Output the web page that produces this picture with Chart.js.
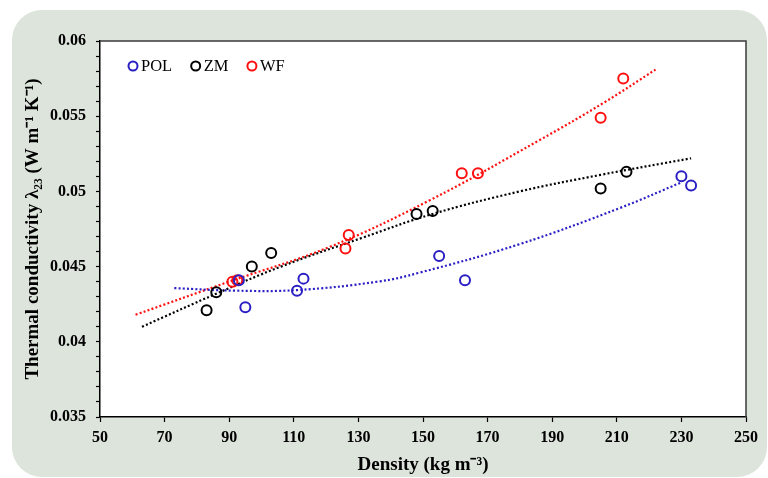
<!DOCTYPE html>
<html>
<head>
<meta charset="utf-8">
<script src="https://cdn.jsdelivr.net/npm/chart.js@4.4.0/dist/chart.umd.min.js"></script>
<style>
  html, body { margin: 0; padding: 0; background: #fff; }
  #wrap { position: relative; width: 768px; height: 478px; overflow: hidden; }
  #panel { position: absolute; left: 12px; top: 10px; width: 755px; height: 467px;
           background: #dde4dc; border-radius: 30px; }
  #grafica { position: absolute; left: 0; top: 0; }
</style>
</head>
<body>
<div id="wrap">
  <div id="panel"></div>
  <canvas id="grafica" width="768" height="478"></canvas>
</div>
<script>
// measured points (density kg/m3, conductivity W/mK)
var polX = [93, 95, 111, 113, 155, 163, 230, 233];
var polY = [0.0441, 0.0423, 0.0434, 0.0442, 0.0457, 0.0441, 0.0510, 0.0504];
var zmX = [83, 86, 97, 103, 148, 153, 205, 213];
var zmY = [0.0421, 0.0433, 0.0450, 0.0459, 0.0485, 0.0487, 0.0502, 0.0513];
var wfX = [91, 92.5, 126, 127, 162, 167, 205, 212];
var wfY = [0.0440, 0.0441, 0.0462, 0.0471, 0.0512, 0.0512, 0.0549, 0.0575];

// trend lines
var polFitX = [73, 92, 111, 136, 149, 180, 211, 230];
var polFitY = [0.04357, 0.0434, 0.04344, 0.0440, 0.0446, 0.0465, 0.0489, 0.0506];
var zmFitX = [63, 86, 106, 131, 153, 180, 205, 233];
var zmFitY = [0.0410, 0.0432, 0.0450, 0.0469, 0.0485, 0.0500, 0.0511, 0.0522];
var wfFitX = [61, 90, 121, 152, 186, 206, 222];
var wfFitY = [0.0418, 0.0440, 0.0463, 0.0494, 0.0534, 0.0559, 0.0581];

var xTicks = [50, 70, 90, 110, 130, 150, 170, 190, 210, 230, 250];
var yTicks = [0.035, 0.04, 0.045, 0.05, 0.055, 0.06];

var azul = '#2a1fc4';
var negro = '#000000';
var rojo = '#ff1010';
var serif = '"Liberation Serif", "Times New Roman", serif';

function puntos(xs, ys) {
  var out = [];
  for (var i = 0; i < xs.length; i++) out.push({x: xs[i], y: ys[i]});
  return out;
}

function serie(label, xs, ys, color) {
  return {
    label: label, data: puntos(xs, ys),
    borderColor: color, backgroundColor: 'transparent',
    pointRadius: 5, pointBorderWidth: 2, pointHoverRadius: 5,
    showLine: false
  };
}

function tendencia(xs, ys, color) {
  return {
    label: '', data: puntos(xs, ys), esTendencia: true,
    borderColor: color, borderWidth: 2.2, borderDash: [2, 2.2],
    pointRadius: 0, showLine: true, tension: 0.4
  };
}

// white plot area + frame
var marco = {
  id: 'marco',
  beforeDraw: function(chart) {
    var a = chart.chartArea, ctx = chart.ctx;
    ctx.save();
    ctx.fillStyle = '#ffffff';
    ctx.fillRect(a.left, a.top, a.right - a.left, a.bottom - a.top);
    ctx.restore();
  },
  afterDraw: function(chart) {
    var a = chart.chartArea, ctx = chart.ctx;
    ctx.save();
    ctx.strokeStyle = '#3a3a3a';
    ctx.lineWidth = 1.5;
    ctx.beginPath();
    ctx.moveTo(a.left, a.top);
    ctx.lineTo(a.right, a.top);
    ctx.lineTo(a.right, a.bottom);
    ctx.stroke();
    ctx.restore();
  }
};

// legend inside plot, top left
var leyenda = {
  id: 'leyenda',
  afterDraw: function(chart) {
    var ctx = chart.ctx, a = chart.chartArea;
    var x = a.left + 33, y = a.top + 25;
    ctx.save();
    ctx.font = '16.5px ' + serif;
    ctx.textBaseline = 'middle';
    chart.data.datasets.forEach(function(ds) {
      if (ds.esTendencia) return;
      ctx.beginPath();
      ctx.strokeStyle = ds.borderColor;
      ctx.lineWidth = 2;
      ctx.arc(x, y, 4.5, 0, Math.PI * 2);
      ctx.stroke();
      ctx.fillStyle = '#000';
      ctx.fillText(ds.label, x + 8, y + 1);
      x += 8 + ctx.measureText(ds.label).width + 23.5;
    });
    ctx.restore();
  }
};

var grafica = new Chart(document.getElementById('grafica').getContext('2d'), {
  type: 'scatter',
  data: {
    datasets: [
      serie('POL', polX, polY, azul),
      serie('ZM', zmX, zmY, negro),
      serie('WF', wfX, wfY, rojo),
      tendencia(polFitX, polFitY, azul),
      tendencia(zmFitX, zmFitY, negro),
      tendencia(wfFitX, wfFitY, rojo)
    ]
  },
  options: {
    responsive: false,
    animation: false,
    layout: { padding: { top: 41, right: 22, left: 0, bottom: 0 } },
    plugins: { legend: { display: false }, tooltip: { enabled: false } },
    scales: {
      x: {
        type: 'linear', min: 50, max: 250,
        afterFit: function(s) { s.height = 61; },
        afterBuildTicks: function(s) { s.ticks = xTicks.map(function(v) { return {value: v}; }); },
        ticks: { color: '#000', padding: 6, font: { family: serif, size: 16, weight: 'bold' } },
        grid: { drawOnChartArea: false, drawTicks: true, tickLength: 5, color: '#000', tickWidth: 1.2 },
        border: { display: true, color: '#000', width: 1.5 },
        title: {
          display: true, text: 'Density (kg m\u207B\u00B3)', color: '#000',
          padding: { top: 0, bottom: 2 },
          font: { family: serif, size: 19, weight: 'bold' }
        }
      },
      y: {
        type: 'linear', min: 0.035, max: 0.06,
        afterFit: function(s) { s.width = 100; },
        ticks: {
          stepSize: 0.001, autoSkip: false, color: '#000', padding: 10,
          font: { family: serif, size: 16, weight: 'bold' },
          callback: function(v) {
            var k = Math.round(v * 1000);
            return yTicks.indexOf(k / 1000) >= 0 ? String(k / 1000) : '';
          }
        },
        grid: { drawOnChartArea: false, drawTicks: true, tickLength: 4, color: '#000', tickWidth: 1.2 },
        border: { display: true, color: '#000', width: 1.5 },
        title: {
          display: true, text: 'Thermal conductivity \u03BB\u2082\u2083 (W m\u207B\u00B9 K\u207B\u00B9)', color: '#000',
          padding: { top: 21.5, bottom: 0 },
          font: { family: serif, size: 19, weight: 'bold' }
        }
      }
    }
  },
  plugins: [marco, leyenda]
});
</script>
</body>
</html>
